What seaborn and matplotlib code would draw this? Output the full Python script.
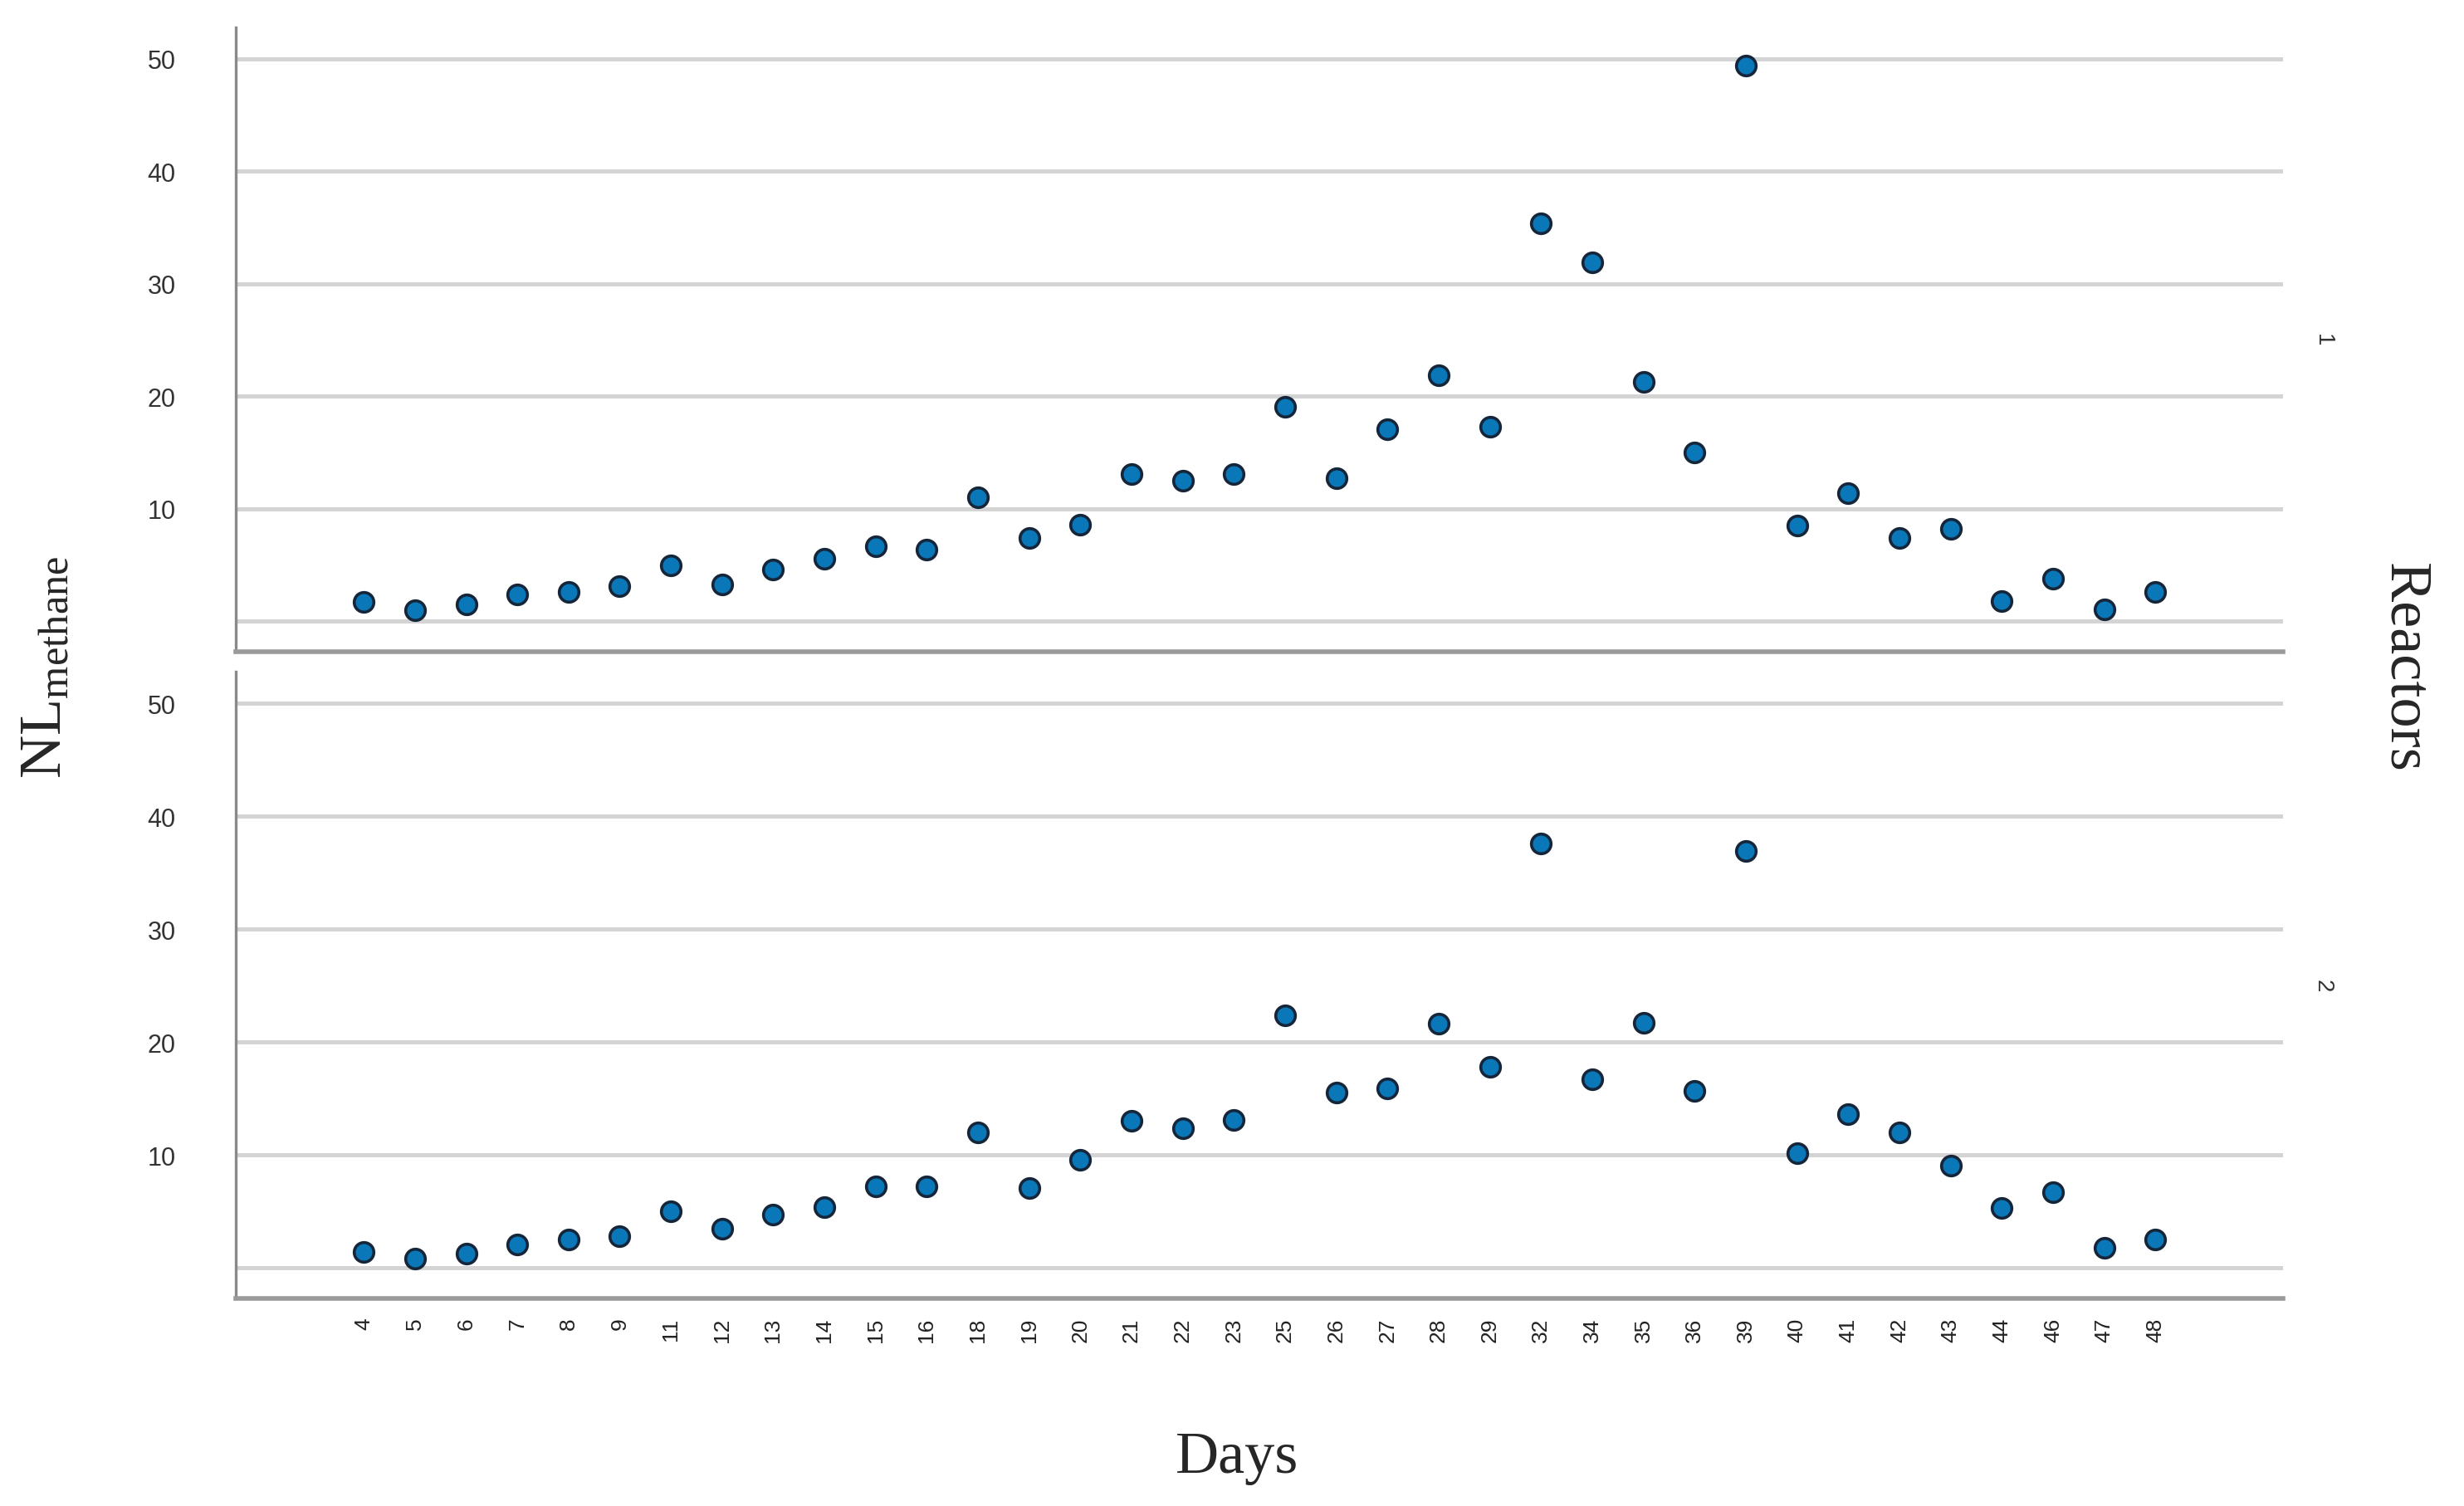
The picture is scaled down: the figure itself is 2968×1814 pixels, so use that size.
import matplotlib
matplotlib.use("Agg")
import matplotlib.pyplot as plt
import seaborn as sns
import pandas as pd

days = [4, 5, 6, 7, 8, 9, 11, 12, 13, 14, 15, 16, 18, 19, 20, 21, 22, 23, 25, 26,
        27, 28, 29, 32, 34, 35, 36, 39, 40, 41, 42, 43, 44, 46, 47, 48]
reactor1 = [1.7, 1.0, 1.5, 2.4, 2.6, 3.1, 5.0, 3.3, 4.6, 5.6, 6.7, 6.4, 11.0, 7.4, 8.6,
            13.1, 12.5, 13.1, 19.1, 12.7, 17.1, 21.9, 17.3, 35.4, 31.9, 21.3, 15.0, 49.4,
            8.5, 11.4, 7.4, 8.2, 1.8, 3.8, 1.1, 2.6]
reactor2 = [1.4, 0.8, 1.25, 2.1, 2.5, 2.8, 5.0, 3.5, 4.7, 5.4, 7.2, 7.2, 12.0, 7.1, 9.6,
            13.0, 12.4, 13.1, 22.4, 15.5, 15.9, 21.6, 17.8, 37.6, 16.7, 21.7, 15.7, 36.9,
            10.2, 13.6, 12.0, 9.1, 5.3, 6.7, 1.8, 2.5]
reactor_labels = ["1", "2"]
ytick_values = [0, 10, 20, 30, 40, 50]
ytick_labels = ["", "10", "20", "30", "40", "50"]

sns.set_theme(style="white")
plt.rcParams['font.family'] = ['Liberation Sans', 'DejaVu Sans']

fig = plt.figure(figsize=(14.84, 9.075), dpi=200)
left, right = 0.0957, 0.9267
ax1 = fig.add_axes([left, 0.5669, right - left, 0.9813 - 0.5669])
ax2 = fig.add_axes([left, 0.1377, right - left, 0.5537 - 0.1377])

order = [str(d) for d in days]
for ax, vals, lab in zip([ax1, ax2], [reactor1, reactor2], reactor_labels):
    df = pd.DataFrame({"Day": order, "NL": vals})
    sns.stripplot(data=df, x="Day", y="NL", order=order, jitter=False, ax=ax,
                  color="#0a78b8", edgecolor="#15263a", linewidth=1.3, size=8.5, zorder=3)
    ax.set_xlim(-2.5, len(days) + 1.5)
    ax.set_ylim(-2.7, 52.8)
    ax.set_yticks(ytick_values)
    ax.set_yticklabels(ytick_labels, fontsize=11, color="#333333")
    ax.yaxis.grid(True, color="#d4d4d4", linewidth=1.8)
    ax.xaxis.grid(False)
    ax.tick_params(axis="y", length=0, pad=26)
    ax.tick_params(axis="x", length=0, pad=8)
    for s in ["top", "right"]:
        ax.spines[s].set_visible(False)
    ax.spines["left"].set_color("#8a8a8a")
    ax.spines["left"].set_linewidth(1.2)
    ax.spines["bottom"].set_color("#9a9a9a")
    ax.spines["bottom"].set_linewidth(2.0)
    ax.set_xlabel("")
    ax.set_ylabel("")
    ax.set_axisbelow(True)
    pos = ax.get_position()
    fig.text(0.9427, (pos.y0 + pos.y1) / 2, lab, rotation=270, ha="center", va="center",
             fontsize=10, color="#333333")

ax1.set_xticklabels([])
ax2.set_xticklabels(order, rotation=90, fontsize=9.5, color="#222222")

fig.text(0.019, 0.557, r"$\mathregular{NL_{methane}}$", rotation=90, ha="center", va="center",
         fontsize=26, family="Liberation Serif")
fig.text(0.9757, 0.557, "Reactors", rotation=270, ha="center", va="center",
         fontsize=26, family="Liberation Serif")
fig.text(0.502, 0.0325, "Days", ha="center", va="center", fontsize=26,
         family="Liberation Serif")

fig.savefig("out.png", dpi=200, facecolor="white")
